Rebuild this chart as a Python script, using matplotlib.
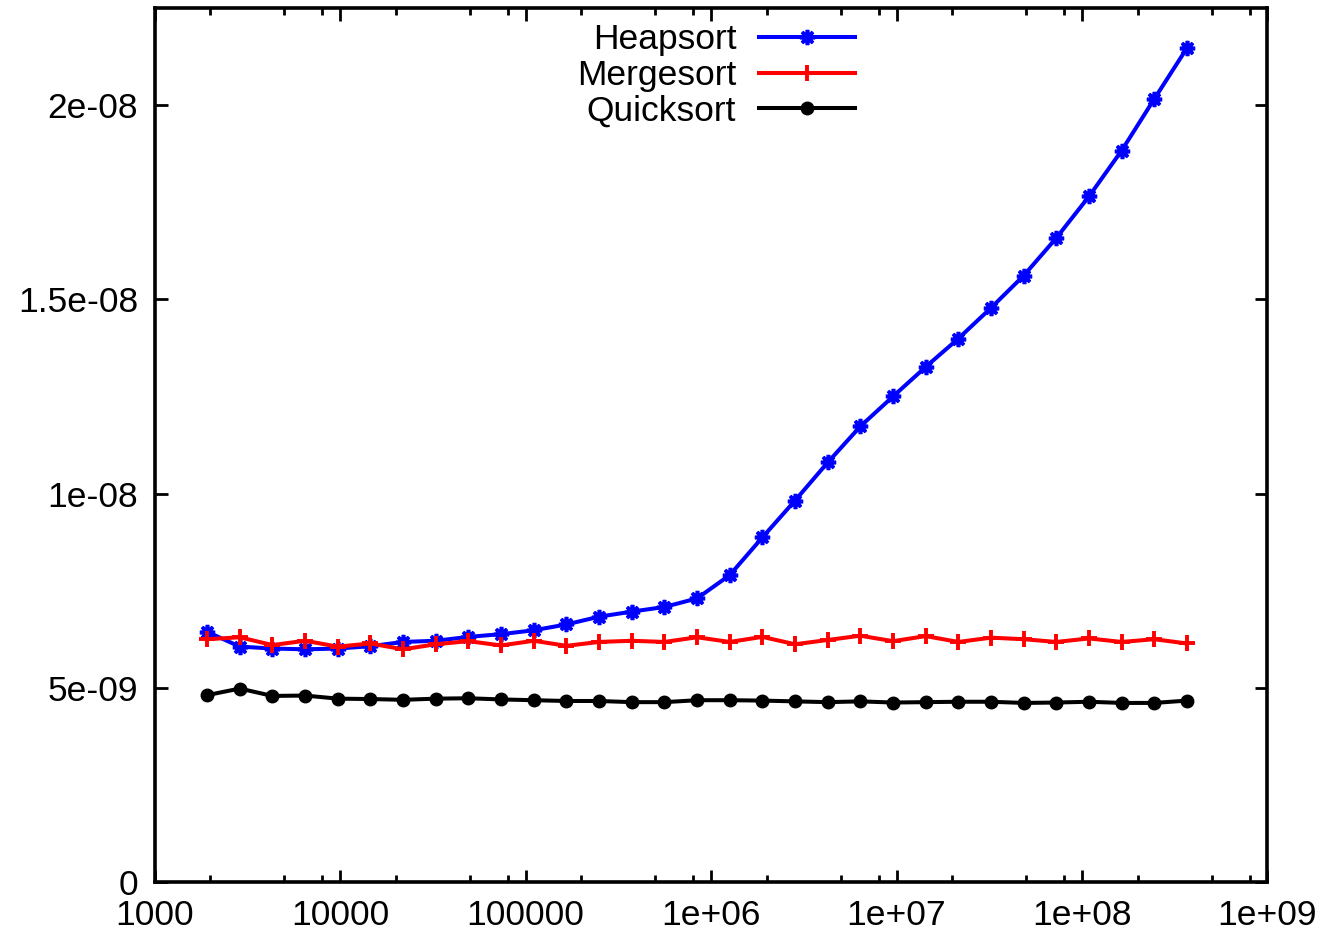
import matplotlib
matplotlib.use('Agg')
import matplotlib.pyplot as plt
from matplotlib.ticker import LogLocator, NullFormatter, FixedLocator, FixedFormatter

plt.rcParams['font.family'] = ['Liberation Sans', 'DejaVu Sans']

# problem sizes (x), grow by ~1.5 each step
sizes = [1920, 2880, 4320, 6480, 9720, 14580, 21870, 32805, 49208, 73811,
         110717, 166075, 249113, 373669, 560504, 840756, 1261134, 1891701,
         2837552, 4256328, 6384492, 9576738, 14365107, 21547660, 32321490,
         48482235, 72723353, 109085030, 163627544, 245441317, 368161975]

# time per element, in units of 1e-9
heapsort = [6.44, 6.06, 6.01, 5.99, 6.01, 6.07, 6.18, 6.21, 6.31, 6.38,
            6.48, 6.63, 6.83, 6.96, 7.08, 7.30, 7.90, 8.87, 9.82, 10.80,
            11.73, 12.50, 13.26, 13.99, 14.78, 15.61, 16.58, 17.65, 18.83,
            20.16, 21.47]
mergesort = [6.25, 6.30, 6.10, 6.21, 6.06, 6.14, 5.99, 6.12, 6.20, 6.09,
             6.21, 6.08, 6.18, 6.21, 6.18, 6.30, 6.18, 6.31, 6.12, 6.23,
             6.34, 6.20, 6.33, 6.18, 6.29, 6.25, 6.18, 6.27, 6.18, 6.25, 6.14]
quicksort = [4.81, 4.98, 4.79, 4.80, 4.72, 4.71, 4.69, 4.72, 4.73, 4.70,
             4.68, 4.66, 4.66, 4.63, 4.63, 4.68, 4.68, 4.67, 4.65, 4.63,
             4.65, 4.62, 4.63, 4.64, 4.64, 4.61, 4.62, 4.64, 4.61, 4.61, 4.67]

xticks = [1e3, 1e4, 1e5, 1e6, 1e7, 1e8, 1e9]
xlabels = ['1000', '10000', '100000', '1e+06', '1e+07', '1e+08', '1e+09']
yticks = [0, 5e-9, 1e-8, 1.5e-8, 2e-8]
ylabels = ['0', '5e-09', '1e-08', '1.5e-08', '2e-08']

scale = 1e-9

fig = plt.figure(figsize=(13.3, 9.39), dpi=100)
ax = fig.add_axes([0.1162, 0.0607, 0.9530 - 0.1162, 0.9915 - 0.0607])

ax.plot(sizes, [v * scale for v in heapsort], color='#0000ff', lw=2.9,
        marker=(8, 2, 0), ms=11, mew=2.6, label='Heapsort')
ax.plot(sizes, [v * scale for v in mergesort], color='#ff0000', lw=2.9,
        marker='+', ms=12, mew=2.8, label='Mergesort')
ax.plot(sizes, [v * scale for v in quicksort], color='black', lw=2.9,
        marker='o', ms=9, label='Quicksort')

ax.set_xscale('log')
ax.set_xlim(1e3, 1e9)
ax.set_ylim(0, 2.25e-8)

ax.xaxis.set_major_locator(FixedLocator(xticks))
ax.xaxis.set_major_formatter(FixedFormatter(xlabels))
ax.xaxis.set_minor_locator(LogLocator(base=10, subs=[2, 5, 8]))
ax.xaxis.set_minor_formatter(NullFormatter())
ax.yaxis.set_major_locator(FixedLocator(yticks))
ax.yaxis.set_major_formatter(FixedFormatter(ylabels))

ax.tick_params(which='both', direction='in', top=True, right=True,
               labelsize=25.5, width=2)
ax.tick_params(which='major', length=9, pad=12)
ax.tick_params(which='minor', length=5)
for s in ax.spines.values():
    s.set_linewidth(2.6)

leg = ax.legend(loc='upper right', bbox_to_anchor=(855 / 1330, 1 - 23.5 / 939),
                bbox_transform=fig.transFigure,
                frameon=False, fontsize=25.5, markerfirst=False,
                handlelength=2.7, handletextpad=0.65, labelspacing=0.07,
                borderpad=0, borderaxespad=0)
for t in leg.get_texts():
    t.set_ha('right')

fig.savefig('out.png', dpi=100)
